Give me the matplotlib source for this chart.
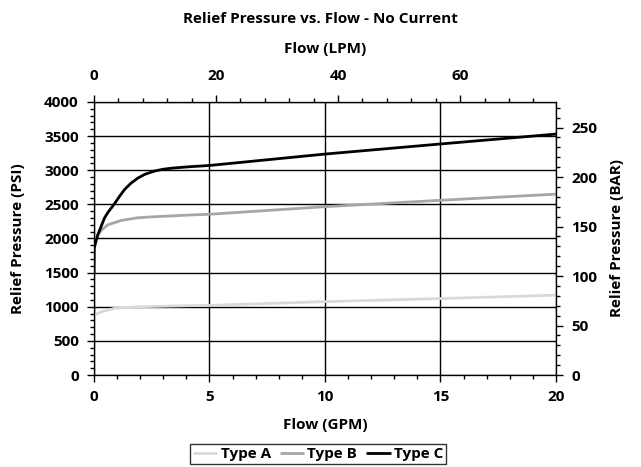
import numpy as np
import matplotlib
matplotlib.use("Agg")
from matplotlib import pyplot as plt
from matplotlib.ticker import MultipleLocator

plt.rcParams['font.family'] = ['Open Sans', 'DejaVu Sans']
plt.rcParams['font.weight'] = 'bold'

# flow in GPM, pressure in PSI
gpm_a = [0, 0.02, 0.32, 0.89, 1.9, 4.07, 5, 10, 15, 20]
psi_a = [708, 879, 927, 977, 1000, 1015, 1020, 1075, 1120, 1170]

gpm_b = [0, 0.1, 0.32, 0.6, 1.18, 1.9, 2.63, 4.07, 5, 10, 15, 20]
psi_b = [1863, 2015, 2122, 2200, 2264, 2304, 2319, 2343, 2355, 2466, 2560, 2650]

gpm_c = [0, 0.01, 0.17, 0.46, 0.6, 0.89, 1.1, 1.33, 1.6, 1.9, 2.2, 2.63, 3.0, 3.35, 4.07, 5, 10, 15, 20]
psi_c = [1500, 1863, 2059, 2304, 2380, 2510, 2615, 2720, 2810, 2885, 2940, 2989, 3015, 3030, 3050, 3070, 3237, 3385, 3530]

labels = ['Type A', 'Type B', 'Type C']
colors = ['#d9d9d9', '#a6a6a6', '#000000']

fs = 11
fig = plt.figure(figsize=(6.41, 4.67), dpi=100)
ax = fig.add_axes([0.1466, 0.197, 0.7208, 0.5846])

for x, y, lab, c in zip([gpm_a, gpm_b, gpm_c], [psi_a, psi_b, psi_c], labels, colors):
    ax.plot(x, y, color=c, lw=2, label=lab, solid_capstyle='butt', solid_joinstyle='round')

ax.set_xlim(0, 20)
ax.set_ylim(0, 4000)
ax.xaxis.set_major_locator(MultipleLocator(5))
ax.xaxis.set_minor_locator(MultipleLocator(1))
ax.yaxis.set_major_locator(MultipleLocator(500))
ax.yaxis.set_minor_locator(MultipleLocator(100))
ax.grid(True, which='major', color='black', lw=1)
ax.set_axisbelow(True)
ax.set_xlabel('Flow (GPM)', fontsize=fs, fontweight='bold', labelpad=10)
ax.set_ylabel('Relief Pressure (PSI)', fontsize=fs, fontweight='bold', labelpad=14)
ax.tick_params(labelsize=fs, width=1, length=5, pad=6)
ax.tick_params(which='minor', width=1, length=3)
for lbl in ax.get_xticklabels() + ax.get_yticklabels():
    lbl.set_fontweight('bold')

# top axis: LPM
ax2 = ax.twiny()
ax2.set_xlim(0, 20 * 3.78541)
ax2.xaxis.set_major_locator(MultipleLocator(20))
ax2.xaxis.set_minor_locator(MultipleLocator(4))
ax2.set_xlabel('Flow (LPM)', fontsize=fs, fontweight='bold', labelpad=11)
ax2.tick_params(labelsize=fs, width=1, length=5, pad=9)
ax2.tick_params(which='minor', width=1, length=3)

# right axis: BAR
ax3 = ax.twinx()
ax3.set_ylim(0, 4000 / 14.5038)
ax3.yaxis.set_major_locator(MultipleLocator(50))
ax3.yaxis.set_minor_locator(MultipleLocator(10))
ax3.set_ylabel('Relief Pressure (BAR)', fontsize=fs, fontweight='bold', labelpad=9)
ax3.tick_params(labelsize=fs, width=1, length=5, pad=6)
ax3.tick_params(which='minor', width=1, length=3)

for a in (ax2, ax3):
    for lbl in a.get_xticklabels() + a.get_yticklabels():
        lbl.set_fontweight('bold')

fig.suptitle('Relief Pressure vs. Flow - No Current', fontsize=fs, fontweight='bold', y=0.975)

leg = ax.legend(loc='upper center', bbox_to_anchor=(0.485, -0.225), ncol=3, frameon=True,
                fancybox=False, edgecolor='black', fontsize=fs, handlelength=1.6,
                handletextpad=0.2, columnspacing=0.6, borderpad=0.2)
leg.get_frame().set_linewidth(1)
for t in leg.get_texts():
    t.set_fontweight('bold')

fig.savefig('out.png', dpi=100)
